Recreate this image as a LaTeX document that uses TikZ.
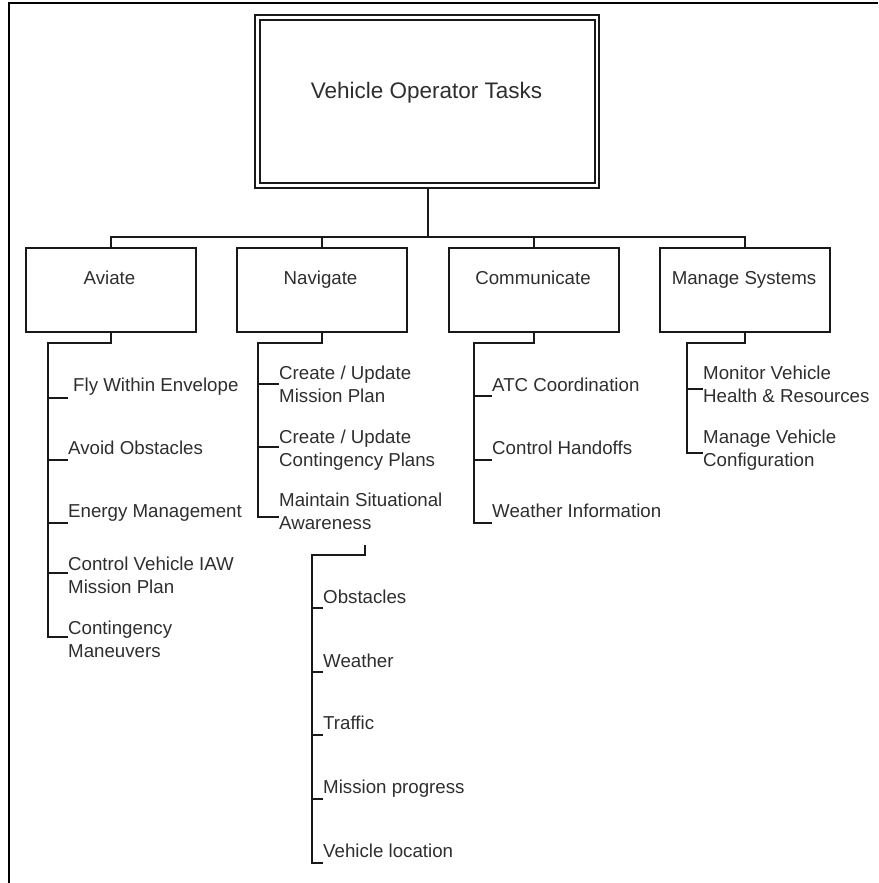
\documentclass[tikz,border=0pt]{standalone}
\usepackage{fontspec}
\setmainfont{Liberation Sans}
\begin{document}
\begin{tikzpicture}[x=1pt,y=-1pt,
  wire/.style={line width=1.6pt,draw=black!90},
  frame/.style={line width=2.2pt,draw=black},
  catbox/.style={wire,rectangle,inner sep=0pt,minimum width=170pt,minimum height=84pt},
  cattext/.style={anchor=base,inner sep=0pt,text=black!82,font=\fontsize{18.7}{22.5}\selectfont},
  item/.style={anchor=base west,inner sep=0pt,align=left,text=black!82,font=\fontsize{18.7}{22.5}\selectfont}]
\useasboundingbox (0,0) rectangle (878,883);

% page frame (top and left edges)
\draw[frame] (9,3.3) -- (878,3.3);
\draw[frame] (9,2.2) -- (9,883);

% root box with double outline
\node[draw=black!90,line width=2.2pt,rectangle,inner sep=0pt,minimum width=344pt,minimum height=173pt] (root) at (427,101.5) {};
\draw[line width=1.3pt,draw=black!90] (260,20) rectangle (595,183);
\node[anchor=base,inner sep=0pt,text=black!82,font=\fontsize{22.5}{26}\selectfont] (roottext) at (426.5,98) {Vehicle Operator Tasks};

% category boxes
\node[catbox] (aviate) at (111,290) {};
\node[catbox] (navigate) at (322,290) {};
\node[catbox] (communicate) at (534,290) {};
\node[catbox] (manage) at (745,290) {};
\node[cattext] at (109.5,284.5) {Aviate};
\node[cattext] at (320.5,284.5) {Navigate};
\node[cattext] at (533,284.5) {Communicate};
\node[cattext] at (744,284.5) {Manage Systems};

% root to categories
\coordinate (bus) at (428,237);
\draw[wire] (root.south -| bus) -- (bus);
\draw[wire] (aviate.north) |- (bus);
\draw[wire] (navigate.north) |- (bus);
\draw[wire] (communicate.north) |- (bus);
\draw[wire] (manage.north) |- (bus);

% ---- Aviate ----
\node[item] (fly) at (73,391.5) {Fly Within Envelope};
\node[item] (avoid) at (68,454.5) {Avoid Obstacles};
\node[item] (energy) at (68,517.5) {Energy Management};
\node[item] (ctrl) at (68,593) {Control Vehicle IAW\\Mission Plan};
\node[item] (cont) at (68,657) {Contingency\\Maneuvers};
\coordinate (aTop) at (48,343);
\coordinate (aFly) at (68,398);
\coordinate (aAvoid) at (68,460);
\coordinate (aEnergy) at (68,523);
\coordinate (aCtrl) at (68,573);
\coordinate (aCont) at (68,637);
\draw[wire] (aviate.south) |- (aTop) |- (aCont);
\foreach \t in {aFly,aAvoid,aEnergy,aCtrl} \draw[wire] (aTop |- \t) -- (\t);

% ---- Navigate ----
\node[item] (mplan) at (279,402) {Create / Update\\Mission Plan};
\node[item] (cplan) at (279,466) {Create / Update\\Contingency Plans};
\node[item] (msa) at (279,529) {Maintain Situational\\Awareness};
\coordinate (nTop) at (258,343);
\coordinate (nM) at (279,384);
\coordinate (nC) at (279,447);
\coordinate (nS) at (279,517);
\draw[wire] (navigate.south) |- (nTop) |- (nS);
\foreach \t in {nM,nC} \draw[wire] (nTop |- \t) -- (\t);

% situational awareness items
\node[item] (obs) at (323,603.5) {Obstacles};
\node[item] (wx) at (323,667.5) {Weather};
\node[item] (traffic) at (323,729.5) {Traffic};
\node[item] (prog) at (323,793.5) {Mission progress};
\node[item] (loc) at (323,857.5) {Vehicle location};
\coordinate (sHook) at (365,545);
\coordinate (sTop) at (312,555);
\coordinate (sObs) at (323,608);
\coordinate (sWx) at (323,672);
\coordinate (sTr) at (323,735);
\coordinate (sPr) at (323,799);
\coordinate (sLoc) at (323,863);
\draw[wire] (sHook) |- (sTop) |- (sLoc);
\foreach \t in {sObs,sWx,sTr,sPr} \draw[wire] (sTop |- \t) -- (\t);

% ---- Communicate ----
\node[item] (atc) at (492,391.5) {ATC Coordination};
\node[item] (hand) at (492,454.5) {Control Handoffs};
\node[item] (winfo) at (492,517.5) {Weather Information};
\coordinate (cTop) at (474,343);
\coordinate (cAtc) at (492,396);
\coordinate (cHand) at (492,460);
\coordinate (cW) at (492,523);
\draw[wire] (communicate.south) |- (cTop) |- (cW);
\foreach \t in {cAtc,cHand} \draw[wire] (cTop |- \t) -- (\t);

% ---- Manage Systems ----
\node[item] (health) at (703,402) {Monitor Vehicle\\Health \& Resources};
\node[item] (config) at (703,466) {Manage Vehicle\\Configuration};
\coordinate (mTop) at (687,343);
\coordinate (mH) at (703,389);
\coordinate (mC) at (703,453);
\draw[wire] (manage.south) |- (mTop) |- (mC);
\draw[wire] (mTop |- mH) -- (mH);
\end{tikzpicture}
\end{document}
